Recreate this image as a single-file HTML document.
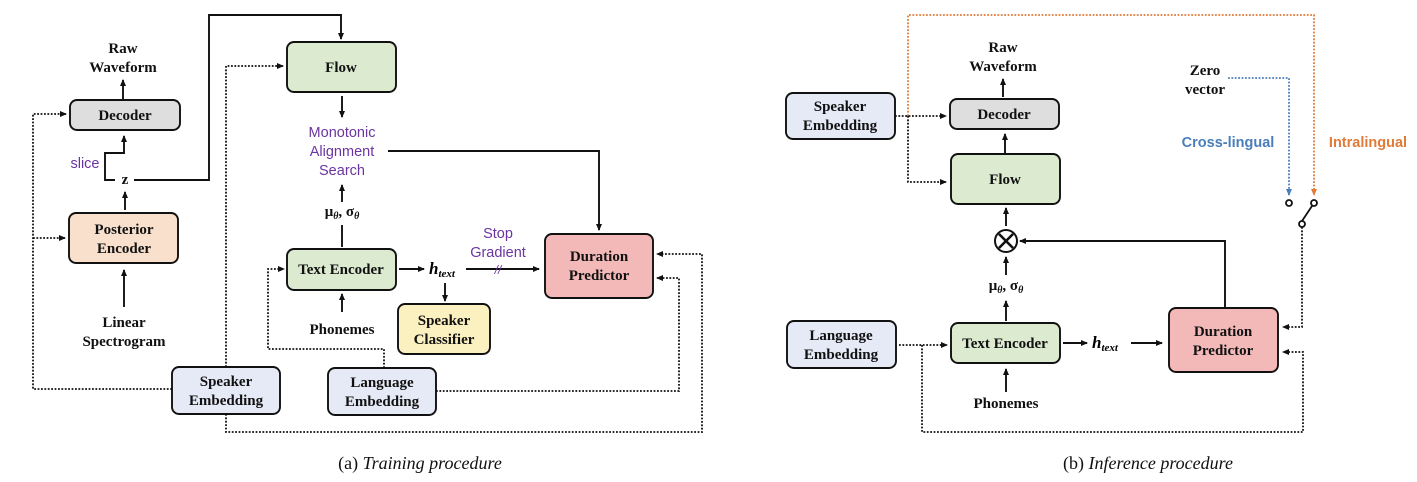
<!DOCTYPE html>
<html><head><meta charset="utf-8"><style>
html,body{margin:0;padding:0;background:#fff;}
svg{display:block}
.t{font-family:"Liberation Serif",serif;font-weight:bold;font-size:15px;text-anchor:middle;fill:#111}
.p{font-family:"Liberation Sans",sans-serif;font-size:14.5px;text-anchor:middle;fill:#6a35a0}
.c{font-family:"Liberation Serif",serif;font-size:18px;text-anchor:middle;fill:#111}
.b{stroke:#111;stroke-width:1.9;rx:7}
.l{stroke:#111;stroke-width:1.9;fill:none}
.d{stroke:#111;stroke-width:1.8;fill:none;stroke-dasharray:1.8 1.6}
</style></head><body>
<svg width="1417" height="482" viewBox="0 0 1417 482" xmlns="http://www.w3.org/2000/svg">
<defs>
<marker id="a" markerWidth="8" markerHeight="8" refX="6" refY="4" orient="auto" markerUnits="userSpaceOnUse"><path d="M0,1 L7,4 L0,7 z" fill="#111"/></marker>
<marker id="ab" markerWidth="8" markerHeight="8" refX="6" refY="4" orient="auto" markerUnits="userSpaceOnUse"><path d="M0,1 L7,4 L0,7 z" fill="#4a7ebb"/></marker>
<marker id="ao" markerWidth="8" markerHeight="8" refX="6" refY="4" orient="auto" markerUnits="userSpaceOnUse"><path d="M0,1 L7,4 L0,7 z" fill="#e07b39"/></marker>
</defs>

<!-- ===== Left panel ===== -->
<rect class="b" x="287" y="42" width="109" height="50" fill="#dcead0"/>
<text class="t" x="341" y="72">Flow</text>
<rect class="b" x="70" y="100" width="110" height="30" fill="#dedede"/>
<text class="t" x="125" y="120">Decoder</text>
<text class="t" x="123" y="53">Raw</text>
<text class="t" x="123" y="72">Waveform</text>
<line class="l" x1="123" y1="99" x2="123" y2="80" marker-end="url(#a)"/>
<rect class="b" x="69" y="213" width="109" height="50" fill="#f9e0cd"/>
<text class="t" x="124" y="234">Posterior</text>
<text class="t" x="124" y="253">Encoder</text>
<text class="t" x="124" y="327">Linear</text>
<text class="t" x="124" y="346">Spectrogram</text>
<line class="l" x1="124" y1="307" x2="124" y2="270" marker-end="url(#a)"/>
<line class="l" x1="125" y1="210" x2="125" y2="192" marker-end="url(#a)"/>
<text class="t" x="125" y="184">z</text>
<text class="p" x="85" y="168">slice</text>
<polyline class="l" points="115,180 105,180 105,153 124,153 124,136" marker-end="url(#a)"/>
<polyline class="l" points="134,180 209,180 209,15 341,15 341,39" marker-end="url(#a)"/>
<line class="l" x1="342" y1="96" x2="342" y2="117" marker-end="url(#a)"/>
<text class="p" x="342" y="137">Monotonic</text>
<text class="p" x="342" y="156">Alignment</text>
<text class="p" x="342" y="175">Search</text>
<polyline class="l" points="388,151 599,151 599,230" marker-end="url(#a)"/>
<text class="t" x="342" y="216">μ<tspan font-size="10" dy="3" font-style="italic">θ</tspan><tspan dy="-3">, σ</tspan><tspan font-size="10" dy="3" font-style="italic">θ</tspan></text>
<line class="l" x1="342" y1="247" x2="342" y2="225"/>
<line class="l" x1="342" y1="202" x2="342" y2="185" marker-end="url(#a)"/>
<rect class="b" x="287" y="249" width="109" height="41" fill="#dcead0"/>
<text class="t" x="341" y="274">Text Encoder</text>
<line class="l" x1="399" y1="269" x2="424" y2="269" marker-end="url(#a)"/>
<text x="429" y="274" font-family="Liberation Serif,serif" font-style="italic" font-weight="bold" font-size="17">h<tspan font-size="11" dy="3">text</tspan></text>
<text class="p" x="498" y="238">Stop</text>
<text class="p" x="498" y="257">Gradient</text>
<line class="l" x1="466" y1="269" x2="539" y2="269" marker-end="url(#a)"/>
<text x="498" y="274" font-family="Liberation Sans,sans-serif" font-size="12" fill="#6a35a0" text-anchor="middle" font-style="italic">//</text>
<line class="l" x1="445" y1="283" x2="445" y2="301" marker-end="url(#a)"/>
<rect class="b" x="398" y="304" width="92" height="50" fill="#fbf0c0"/>
<text class="t" x="444" y="325">Speaker</text>
<text class="t" x="444" y="344">Classifier</text>
<text class="t" x="342" y="334">Phonemes</text>
<line class="l" x1="342" y1="312" x2="342" y2="294" marker-end="url(#a)"/>
<rect class="b" x="545" y="234" width="108" height="64" fill="#f2b9b8"/>
<text class="t" x="599" y="261">Duration</text>
<text class="t" x="599" y="280">Predictor</text>
<rect class="b" x="172" y="367" width="108" height="47" fill="#e6eaf6"/>
<text class="t" x="226" y="386">Speaker</text>
<text class="t" x="226" y="405">Embedding</text>
<rect class="b" x="328" y="368" width="108" height="47" fill="#e6eaf6"/>
<text class="t" x="382" y="387">Language</text>
<text class="t" x="382" y="406">Embedding</text>
<polyline class="d" points="172,389 33,389 33,114 66,114" marker-end="url(#a)"/>
<polyline class="d" points="33,238 65,238" marker-end="url(#a)"/>
<polyline class="d" points="226,367 226,66 283,66" marker-end="url(#a)"/>
<polyline class="d" points="226,414 226,432 702,432 702,254 657,254" marker-end="url(#a)"/>
<polyline class="d" points="384,368 384,349 268,349 268,269 284,269" marker-end="url(#a)"/>
<polyline class="d" points="436,391 679,391 679,278 657,278" marker-end="url(#a)"/>
<text class="c" x="420" y="469">(a) <tspan font-style="italic">Training procedure</tspan></text>

<!-- ===== Right panel ===== -->
<polyline points="908,116 908,15 1314,15 1314,195" fill="none" stroke="#e07b39" stroke-width="1.8" stroke-dasharray="1.8 1.6" marker-end="url(#ao)"/>
<rect class="b" x="786" y="93" width="109" height="46" fill="#e6eaf6"/>
<text class="t" x="840" y="111">Speaker</text>
<text class="t" x="840" y="130">Embedding</text>
<text class="t" x="1003" y="52">Raw</text>
<text class="t" x="1003" y="71">Waveform</text>
<line class="l" x1="1003" y1="97" x2="1003" y2="79" marker-end="url(#a)"/>
<rect class="b" x="950" y="99" width="109" height="30" fill="#dedede"/>
<text class="t" x="1004" y="119">Decoder</text>
<line class="l" x1="1005" y1="153" x2="1005" y2="134" marker-end="url(#a)"/>
<rect class="b" x="951" y="154" width="109" height="50" fill="#dcead0"/>
<text class="t" x="1005" y="184">Flow</text>
<polyline class="d" points="895,116 946,116" marker-end="url(#a)"/>
<polyline class="d" points="908,116 908,182 946,182" marker-end="url(#a)"/>
<line class="l" x1="1006" y1="226" x2="1006" y2="208" marker-end="url(#a)"/>
<circle cx="1006" cy="241" r="11" fill="#fff" stroke="#111" stroke-width="2"/>
<line x1="999" y1="234" x2="1013" y2="248" stroke="#111" stroke-width="2.6"/>
<line x1="1013" y1="234" x2="999" y2="248" stroke="#111" stroke-width="2.6"/>
<polyline class="l" points="1225,307 1225,241 1020,241" marker-end="url(#a)"/>
<line class="l" x1="1006" y1="275" x2="1006" y2="257" marker-end="url(#a)"/>
<text class="t" x="1006" y="290">μ<tspan font-size="10" dy="3" font-style="italic">θ</tspan><tspan dy="-3">, σ</tspan><tspan font-size="10" dy="3" font-style="italic">θ</tspan></text>
<line class="l" x1="1006" y1="321" x2="1006" y2="301" marker-end="url(#a)"/>
<rect class="b" x="787" y="321" width="109" height="47" fill="#e6eaf6"/>
<text class="t" x="841" y="340">Language</text>
<text class="t" x="841" y="359">Embedding</text>
<rect class="b" x="951" y="323" width="109" height="40" fill="#dcead0"/>
<text class="t" x="1005" y="348">Text Encoder</text>
<text class="t" x="1006" y="408">Phonemes</text>
<line class="l" x1="1006" y1="392" x2="1006" y2="369" marker-end="url(#a)"/>
<line class="l" x1="1063" y1="343" x2="1087" y2="343" marker-end="url(#a)"/>
<text x="1092" y="348" font-family="Liberation Serif,serif" font-style="italic" font-weight="bold" font-size="17">h<tspan font-size="11" dy="3">text</tspan></text>
<line class="l" x1="1131" y1="343" x2="1162" y2="343" marker-end="url(#a)"/>
<rect class="b" x="1169" y="308" width="109" height="64" fill="#f2b9b8"/>
<text class="t" x="1223" y="336">Duration</text>
<text class="t" x="1223" y="355">Predictor</text>
<polyline class="d" points="899,345 947,345" marker-end="url(#a)"/>
<polyline class="d" points="922,345 922,432 1303,432 1303,352 1283,352" marker-end="url(#a)"/>
<text class="t" x="1205" y="75">Zero</text>
<text class="t" x="1205" y="94">vector</text>
<polyline points="1228,78 1289,78 1289,195" fill="none" stroke="#4a7ebb" stroke-width="1.8" stroke-dasharray="1.8 1.6" marker-end="url(#ab)"/>
<text x="1228" y="147" font-family="Liberation Sans,sans-serif" font-weight="bold" font-size="14.5" fill="#4a7ebb" text-anchor="middle">Cross-lingual</text>
<text x="1368" y="147" font-family="Liberation Sans,sans-serif" font-weight="bold" font-size="14.5" fill="#e07b39" text-anchor="middle">Intralingual</text>
<line x1="1302" y1="221" x2="1312" y2="206" stroke="#111" stroke-width="1.8"/>
<circle cx="1289" cy="203" r="3" fill="#fff" stroke="#111" stroke-width="1.8"/>
<circle cx="1314" cy="203" r="3" fill="#fff" stroke="#111" stroke-width="1.8"/>
<circle cx="1302" cy="224" r="3" fill="#fff" stroke="#111" stroke-width="1.8"/>
<polyline class="d" points="1302,227 1302,327 1283,327" marker-end="url(#a)"/>
<text class="c" x="1148" y="469">(b) <tspan font-style="italic">Inference procedure</tspan></text>
</svg>
</body></html>
